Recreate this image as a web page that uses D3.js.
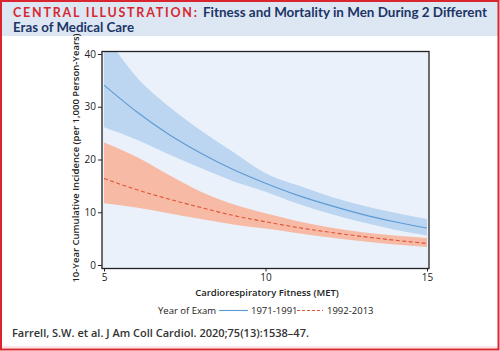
<!DOCTYPE html>
<html>
<head>
<meta charset="utf-8">
<script src="https://cdn.jsdelivr.net/npm/d3@7"></script>
<style>
  html, body { margin: 0; padding: 0; background: #fff; }
  svg { display: block; }
</style>
</head>
<body>
<svg id="chart" width="500" height="351"></svg>
<script>
// ---- Data ----
const met = [5, 6, 7, 8, 9, 10, 11, 12, 13, 14, 15];
const era1Label = "1971-1991";
const era1Mean  = [34.1, 29.1, 24.8, 21.2, 18.1, 15.5, 13.2, 11.3, 9.6, 8.2, 7.0];
const era1Upper = [44.0, 35.7, 30.1, 25.5, 21.4, 17.4, 15.1, 13.0, 11.3, 9.9, 8.7];
const era1Lower = [26.1, 23.8, 21.0, 18.4, 15.9, 13.9, 11.6, 9.7, 8.1, 6.7, 5.6];
const era2Label = "1992-2013";
const era2Mean  = [16.4, 14.3, 12.5, 10.9, 9.4, 8.2, 7.1, 6.2, 5.4, 4.7, 4.1];
const era2Upper = [23.2, 20.5, 17.1, 13.9, 11.5, 9.8, 8.3, 7.1, 6.2, 5.6, 5.1];
const era2Lower = [11.7, 10.9, 9.8, 8.7, 7.7, 6.9, 6.0, 5.2, 4.5, 3.9, 3.4];
const xTicks = [5, 10, 15];
const yTicks = [0, 10, 20, 30, 40];

const svg = d3.select("#chart");
const W = 500, H = 351;
const ff = "'Open Sans', sans-serif";
const tf = "Lato, 'Open Sans', sans-serif";

// ---- Frame / header ----
svg.append("rect").attr("x", 0).attr("y", 0).attr("width", W).attr("height", H).attr("fill", "#fff");
svg.append("rect").attr("x", 2).attr("y", 2).attr("width", W - 4).attr("height", 34).attr("fill", "#dde7f3");
svg.append("line").attr("x1", 2).attr("x2", W - 3).attr("y1", H - 4).attr("y2", H - 4)
  .attr("stroke", "#f6c9cc").attr("stroke-width", 1);
svg.append("rect").attr("x", 1).attr("y", 1).attr("width", W - 2.5).attr("height", H - 2.5)
  .attr("fill", "none").attr("stroke", "#d9262e").attr("stroke-width", 2);

svg.append("text").attr("x", 13).attr("y", 17)
  .attr("font-family", tf).attr("font-weight", 700).attr("font-size", 12.5)
  .attr("fill", "#d7282f").attr("textLength", 184).attr("lengthAdjust", "spacing")
  .text("CENTRAL ILLUSTRATION:");
svg.append("text").attr("x", 203).attr("y", 17)
  .attr("font-family", tf).attr("font-weight", 700).attr("font-size", 12.5)
  .attr("fill", "#1c3567").attr("textLength", 284).attr("lengthAdjust", "spacingAndGlyphs")
  .text("Fitness and Mortality in Men During 2 Different");
svg.append("text").attr("x", 13).attr("y", 32.2)
  .attr("font-family", tf).attr("font-weight", 700).attr("font-size", 12.5)
  .attr("fill", "#1c3567").attr("textLength", 121).attr("lengthAdjust", "spacingAndGlyphs")
  .text("Eras of Medical Care");

// ---- Plot ----
const x = d3.scaleLinear().domain([5, 15]).range([104, 427]);
const y = d3.scaleLinear().domain([0, 40]).range([265, 54]);
const fx0 = 102, fx1 = 429, fy0 = 51.5, fy1 = 268.5;

svg.append("defs").append("clipPath").attr("id", "clip")
  .append("rect").attr("x", fx0).attr("y", fy0).attr("width", fx1 - fx0).attr("height", fy1 - fy0);

svg.append("rect").attr("x", fx0).attr("y", fy0).attr("width", fx1 - fx0).attr("height", fy1 - fy0)
  .attr("fill", "#eaf1fa");

const g = svg.append("g").attr("clip-path", "url(#clip)");
const curve = d3.curveMonotoneX;

function band(lower, upper, fill) {
  const area = d3.area().curve(curve)
    .x((d, i) => x(met[i])).y0((d, i) => y(lower[i])).y1((d, i) => y(upper[i]));
  g.append("path").datum(met).attr("d", area).attr("fill", fill);
}
band(era1Lower, era1Upper, "#bcd5f0");
band(era2Lower, era2Upper, "#f7baa4");

function line(vals, color, dash) {
  const ln = d3.line().curve(curve).x((d, i) => x(met[i])).y((d, i) => y(vals[i]));
  g.append("path").datum(met).attr("d", ln).attr("fill", "none").attr("stroke", color)
    .attr("stroke-width", 1.1).attr("stroke-dasharray", dash);
}
line(era1Mean, "#5b9bd5", null);
line(era2Mean, "#e0533b", "4,2.5");

svg.append("rect").attr("x", fx0).attr("y", fy0).attr("width", fx1 - fx0).attr("height", fy1 - fy0)
  .attr("fill", "none").attr("stroke", "#222").attr("stroke-width", 1.3);

// Axes
const xAxis = svg.append("g").attr("transform", `translate(0,${fy1})`)
  .call(d3.axisBottom(x).tickValues(xTicks).tickSize(3).tickPadding(2).tickFormat(d3.format("d")));
const yAxis = svg.append("g").attr("transform", `translate(${fx0},0)`)
  .call(d3.axisLeft(y).tickValues(yTicks).tickSize(4).tickPadding(2).tickFormat(d3.format("d")));
[xAxis, yAxis].forEach(a => {
  a.select(".domain").remove();
  a.selectAll("line").attr("stroke", "#222").attr("stroke-width", 1);
  a.selectAll("text").attr("font-family", ff).attr("font-size", 10).attr("fill", "#222");
});

// Axis titles
svg.append("text").attr("x", 267).attr("y", 296).attr("text-anchor", "middle")
  .attr("font-family", ff).attr("font-weight", 600).attr("font-size", 9.5)
  .attr("fill", "#222").text("Cardiorespiratory Fitness (MET)");
svg.append("text").attr("transform", "translate(79,158) rotate(-90)").attr("text-anchor", "middle")
  .attr("font-family", ff).attr("font-weight", 600).attr("font-size", 9.5)
  .attr("fill", "#222").text("10-Year Cumulative Incidence (per 1,000 Person-Years)");

// Legend
svg.append("text").attr("x", 158).attr("y", 314).attr("font-family", ff).attr("font-size", 9.5)
  .attr("fill", "#222").text("Year of Exam");
svg.append("line").attr("x1", 219).attr("x2", 248).attr("y1", 310.5).attr("y2", 310.5)
  .attr("stroke", "#5b9bd5").attr("stroke-width", 1.1);
svg.append("text").attr("x", 251).attr("y", 314).attr("font-family", ff).attr("font-size", 9.5)
  .attr("fill", "#222").text(era1Label);
svg.append("line").attr("x1", 297).attr("x2", 323).attr("y1", 310.5).attr("y2", 310.5)
  .attr("stroke", "#e0533b").attr("stroke-width", 1.1).attr("stroke-dasharray", "3,2");
svg.append("text").attr("x", 327).attr("y", 314).attr("font-family", ff).attr("font-size", 9.5)
  .attr("fill", "#222").text(era2Label);

// Citation
svg.append("text").attr("x", 12).attr("y", 337).attr("font-family", ff).attr("font-weight", 600)
  .attr("font-size", 11).attr("fill", "#333")
  .text("Farrell, S.W. et al. J Am Coll Cardiol. 2020;75(13):1538\u201347.");
</script>
</body>
</html>
